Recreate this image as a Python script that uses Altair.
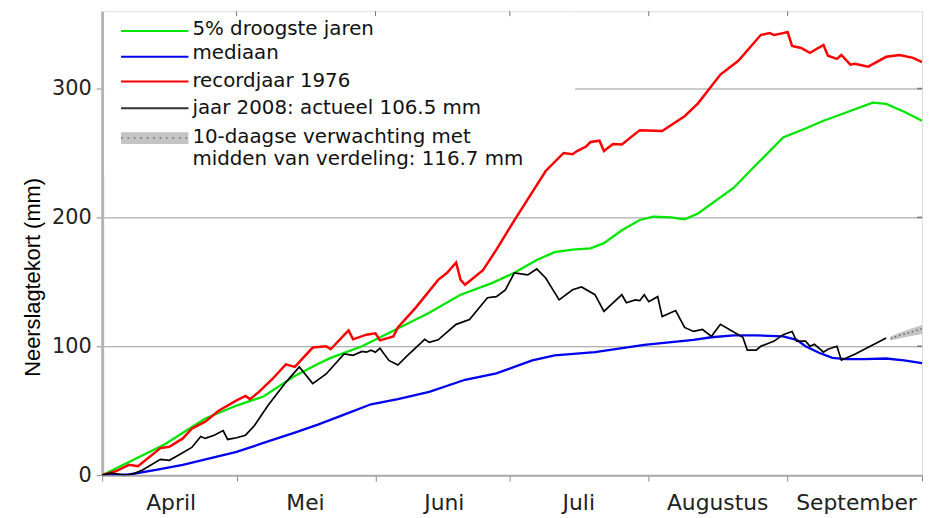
import json
import altair as alt
import pandas as pd

# ---- data (day offset from 1 April, value in mm) ----
month_starts = [0, 30, 61, 91, 122, 153, 183]
month_names = ["April", "Mei", "Juni", "Juli", "Augustus", "September", ""]
y_ticks = [0, 100, 200, 300]

droogste_5pct = [(0, 0), (7, 12), (14, 24), (23, 44), (30, 54), (36, 61), (43, 77), (48, 86),
                 (51, 91), (58, 100), (65, 112), (73, 126), (80, 140), (87, 149), (92, 157),
                 (97, 167), (101, 173), (105, 175), (109, 176), (112, 180), (116, 190), (120, 198),
                 (123, 200.5), (127, 200), (130, 198.5), (133, 203), (141, 223), (146, 241),
                 (152, 262), (157, 269), (161, 275), (165, 280), (172, 289), (175, 288),
                 (179, 282), (183, 275)]

mediaan = [(0, 0), (6, 0.5), (12, 4), (18, 8), (24, 13), (30, 18), (36, 25), (43, 33), (48, 39),
           (54, 47), (60, 55), (66, 59), (73, 64.6), (81, 74), (88, 79), (92, 84), (96, 89),
           (101, 93), (110, 95.5), (121, 101), (132, 105), (136, 107), (141, 108.5), (146, 108.5),
           (152, 107.7), (155, 105), (157, 100), (160, 95), (163, 91), (166, 90), (170, 90),
           (175, 90.5), (179, 89), (183, 87)]

recordjaar_1976 = [(0, 0), (3, 3), (6, 8), (8, 7), (13, 21), (15, 22), (18, 28.5), (20, 36),
                   (23, 41.5), (26, 50), (30, 58), (32, 61.5), (33, 59), (35, 64.6), (38, 74.6),
                   (41, 86), (43, 84), (47, 99), (50, 100), (51, 97.7), (55, 112.3), (56, 105.4),
                   (59, 109), (61, 110), (62, 104.6), (65, 107.7), (66, 114.6), (70, 130),
                   (75, 151.5), (77, 157), (79, 165), (80, 151.5), (81, 147.7), (85, 159),
                   (88, 175), (92, 197.7), (99, 236), (103, 250), (105, 249), (106, 251.5),
                   (108, 255), (109, 258.5), (111, 259.5), (112, 251.5), (114, 257), (116, 256.5),
                   (120, 267.7), (125, 267), (130, 278.5), (133, 288.5), (138, 310.8),
                   (142, 321.5), (147, 341.5), (149, 343), (150, 341.5), (152, 343), (153, 343.8),
                   (154, 333), (156, 331.5), (158, 327.7), (161, 333.8), (162, 325.4), (164, 323),
                   (165, 326), (167, 318.5), (168, 319.2), (170, 317.7), (171, 317), (175, 324.6),
                   (178, 326), (181, 323.8), (183, 320.5)]

jaar_2008 = [(0, 0), (2, 1.5), (5, 0), (7, 1), (9, 4), (13, 12.3), (15, 11.5), (17, 15.4),
             (20, 21.5), (22, 30), (23, 28.5), (25, 31), (27, 34.6), (28, 27.7), (30, 29),
             (32, 31), (34, 38.5), (37, 54), (41, 72), (44, 84), (47, 71), (50, 78.5), (54, 94),
             (56, 93), (58, 96), (59, 95.4), (60, 97), (61, 95.4), (62, 98.5), (64, 89),
             (66, 85.4), (68, 92.3), (72, 105.4), (73, 103), (75, 105), (79, 117), (82, 120.8),
             (86, 137.7), (88, 138.5), (90, 143.8), (92, 157), (95, 155.4), (97, 160), (99, 153),
             (102, 136), (105, 143.8), (107, 146), (110, 140), (112, 127), (116, 140),
             (117, 133.8), (119, 136), (120, 135.4), (121, 140), (122, 134.6), (124, 138.5),
             (125, 123), (128, 127.7), (130, 114.6), (132, 111.5), (134, 113), (136, 107.7),
             (138, 117), (143, 107), (144, 97), (146, 97), (147, 100), (150, 104), (152, 109),
             (154, 111.5), (155, 104), (157, 104), (158, 100), (159, 101.5), (161, 95.4),
             (162, 97.7), (164, 100), (165, 89.2), (168, 93.8), (175, 106.5)]

forecast_days = [176, 178, 180, 183]
forecast_mid = [106, 108.5, 110.5, 113.5]
forecast_low = [104.5, 106, 107.5, 109.5]
forecast_high = [107.5, 110.5, 113, 116.5]

legend_labels = ["5% droogste jaren", "mediaan", "recordjaar 1976", "jaar 2008: actueel 106.5 mm"]
legend_colors = ["#00e600", "#0000f0", "#ff0000", "#333333"]
forecast_label = ["10-daagse verwachting met", "midden van verdeling: 116.7 mm"]

# ---- encodings ----
LABEL_FONT = "DejaVu Sans"
x_scale = alt.Scale(domain=[0, 183], nice=False, zero=False)
y_scale = alt.Scale(domain=[0, 360], nice=False)
label_expr = "{}[indexof({}, datum.value)]".format(json.dumps(month_names), json.dumps(month_starts))
x_axis = alt.Axis(values=month_starts, labelExpr=label_expr, title=None, grid=False,
                  labelOffset=69, labelFlush=False, labelOverlap=False, labelBound=False,
                  tickSize=6, labelPadding=12, labelFont=LABEL_FONT, labelFontSize=22,
                  labelColor="#222222", domainColor="#aaaaaa", domainWidth=2, tickColor="#888888")
y_axis = alt.Axis(values=y_ticks, title="Neerslagtekort (mm)", grid=True, gridColor="#999999",
                  gridWidth=1, tickSize=6, labelPadding=5, labelFont=LABEL_FONT, labelFontSize=21,
                  labelColor="#222222", domainColor="#b4b4b4", domainWidth=3, tickColor="#888888",
                  titleFont="Liberation Sans", titleFontSize=22, titleFontWeight="normal",
                  titleColor="#000000", titleX=-70, titleY=268, titleAngle=270,
                  titleAlign="center", titleBaseline="middle")


def X(field):
    return alt.X(f"{field}:Q", scale=x_scale, axis=x_axis)


def Y(field):
    return alt.Y(f"{field}:Q", scale=y_scale, axis=y_axis)


def frame(pts):
    return pd.DataFrame(pts, columns=["day", "value"])


# legend background (hides grid under the legend)
legend_bg = alt.Chart(pd.DataFrame({"a": [0]})).mark_rect(fill="white").encode(
    x=alt.value(2), x2=alt.value(477), y=alt.value(1), y2=alt.value(165))

fc_df = pd.DataFrame({"day": forecast_days, "mid": forecast_mid, "low": forecast_low,
                      "high": forecast_high})
fc_band = alt.Chart(fc_df).mark_area(color="#c4c4c4", clip=True).encode(
    x=X("day"), y=Y("low"), y2="high:Q")
fc_line = alt.Chart(fc_df).mark_line(color="#666666", strokeWidth=1.5, strokeDash=[1.5, 3],
                                     clip=True).encode(x=X("day"), y=Y("mid"))

lines = []
for pts, col, w in [(mediaan, "#0000f0", 2.3), (droogste_5pct, "#00e600", 2.3),
                    (recordjaar_1976, "#ff0000", 2.5), (jaar_2008, "#000000", 1.7)]:
    lines.append(alt.Chart(frame(pts)).mark_line(color=col, strokeWidth=w, clip=True).encode(
        x=X("day"), y=Y("value")))

# legend entries
legend_layers = []
line_y = [20, 46, 71, 98]
text_y = [24, 48, 76, 104]
one = pd.DataFrame({"a": [0]})
for i, (lab, col) in enumerate(zip(legend_labels, legend_colors)):
    legend_layers.append(alt.Chart(one).mark_rule(color=col, strokeWidth=2).encode(
        x=alt.value(19), x2=alt.value(87), y=alt.value(line_y[i])))
    legend_layers.append(alt.Chart(one).mark_text(align="left", baseline="alphabetic",
                                                  font=LABEL_FONT, fontSize=20, color="#111111").encode(
        x=alt.value(91), y=alt.value(text_y[i]), text=alt.value(lab)))
legend_layers.append(alt.Chart(one).mark_rect(fill="#c4c4c4").encode(
    x=alt.value(19), x2=alt.value(87), y=alt.value(122), y2=alt.value(134)))
legend_layers.append(alt.Chart(one).mark_rule(color="#666666", strokeWidth=1.5,
                                              strokeDash=[1.5, 5]).encode(
    x=alt.value(19), x2=alt.value(87), y=alt.value(128)))
for j, (lab, ty) in enumerate(zip(forecast_label, [133, 155])):
    legend_layers.append(alt.Chart(one).mark_text(align="left", baseline="alphabetic",
                                                  font=LABEL_FONT, fontSize=20, color="#111111").encode(
        x=alt.value(91), y=alt.value(ty), text=alt.value(lab)))

# small tick marks on top and right frame
top_ticks = alt.Chart(pd.DataFrame({"day": month_starts[1:-1]})).mark_rule(
    color="#777777", strokeWidth=1).encode(x=X("day"), y=alt.value(0), y2=alt.value(5))
right_ticks = alt.Chart(pd.DataFrame({"value": y_ticks[1:]})).mark_rule(
    color="#777777", strokeWidth=1.5).encode(y=Y("value"), x=alt.value(822), x2=alt.value(827))

chart = alt.layer(legend_bg, fc_band, fc_line, *lines, *legend_layers, top_ticks, right_ticks).properties(
    width=827, height=468,
    autosize=alt.AutoSizeParams(type="none"),
    padding={"left": 95, "top": 1, "right": 2, "bottom": 40},
).configure_view(stroke="#aaaaaa", strokeWidth=2).configure(background="white")

chart.save("out.html", embed_options={"renderer": "svg", "actions": False})
